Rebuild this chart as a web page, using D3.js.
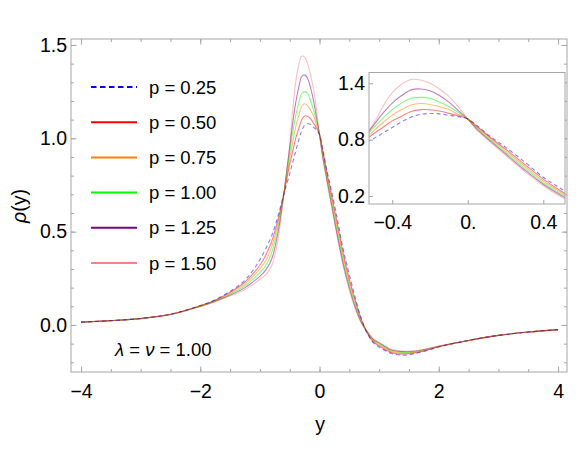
<!DOCTYPE html>
<html>
<head>
<meta charset="utf-8">
<script src="https://cdn.jsdelivr.net/npm/d3@7"></script>
<style>
  body { margin: 0; background: #fff; }
  text { font-family: "Liberation Sans", Arial, sans-serif; }
</style>
</head>
<body>
<div id="chart"></div>
<script>
"use strict";

// sample points along y
const yGrid = [-4, -3.5, -3, -2.5, -2, -1.75, -1.5, -1.25, -1.1, -1, -0.9, -0.8, -0.7, -0.6,
  -0.5, -0.45, -0.4, -0.35, -0.3, -0.25, -0.2, -0.15, -0.1, -0.05, 0, 0.05, 0.1, 0.15, 0.2,
  0.3, 0.4, 0.5, 0.6, 0.7, 0.8, 0.9, 1.0, 1.2, 1.4, 1.6, 1.8, 2.0, 2.5, 3, 3.5, 4];

const rhoP025 = [0.015, 0.023, 0.035, 0.058, 0.104, 0.135, 0.18, 0.24, 0.30, 0.35, 0.41, 0.48, 0.58, 0.70,
  0.81, 0.87, 0.93, 0.99, 1.04, 1.07, 1.078, 1.075, 1.06, 1.045, 1.02, 0.95, 0.865, 0.79, 0.72,
  0.565, 0.40, 0.27, 0.145, 0.035, -0.045, -0.095, -0.118, -0.152, -0.162, -0.153, -0.137, -0.118, -0.083, -0.056, -0.038, -0.025];
const rhoP050 = [0.015, 0.023, 0.035, 0.057, 0.103, 0.133, 0.175, 0.23, 0.28, 0.32, 0.375, 0.45, 0.56, 0.70,
  0.86, 0.93, 1.00, 1.05, 1.10, 1.12, 1.118, 1.105, 1.08, 1.055, 1.02, 0.94, 0.855, 0.775, 0.70,
  0.54, 0.38, 0.245, 0.13, 0.03, -0.043, -0.09, -0.112, -0.147, -0.156, -0.150, -0.135, -0.117, -0.083, -0.056, -0.038, -0.025];
const rhoP075 = [0.015, 0.023, 0.034, 0.057, 0.102, 0.131, 0.17, 0.22, 0.265, 0.30, 0.345, 0.42, 0.54, 0.70,
  0.89, 0.98, 1.06, 1.12, 1.17, 1.185, 1.175, 1.15, 1.12, 1.07, 1.02, 0.93, 0.845, 0.76, 0.68,
  0.52, 0.36, 0.23, 0.12, 0.025, -0.041, -0.086, -0.106, -0.142, -0.151, -0.147, -0.133, -0.116, -0.083, -0.056, -0.038, -0.025];
const rhoP100 = [0.015, 0.023, 0.034, 0.056, 0.101, 0.129, 0.165, 0.21, 0.25, 0.28, 0.32, 0.39, 0.52, 0.70,
  0.925, 1.03, 1.12, 1.19, 1.24, 1.25, 1.24, 1.20, 1.15, 1.09, 1.02, 0.92, 0.83, 0.745, 0.665,
  0.50, 0.34, 0.215, 0.105, 0.02, -0.039, -0.082, -0.101, -0.138, -0.147, -0.144, -0.131, -0.115, -0.083, -0.056, -0.038, -0.025];
const rhoP125 = [0.015, 0.023, 0.034, 0.056, 0.100, 0.127, 0.16, 0.20, 0.235, 0.26, 0.295, 0.355, 0.49, 0.70,
  0.95, 1.08, 1.19, 1.27, 1.33, 1.34, 1.32, 1.27, 1.20, 1.11, 1.02, 0.91, 0.82, 0.735, 0.65,
  0.48, 0.325, 0.20, 0.095, 0.015, -0.037, -0.078, -0.096, -0.134, -0.143, -0.141, -0.129, -0.114, -0.083, -0.056, -0.038, -0.025];
const rhoP150 = [0.015, 0.023, 0.034, 0.055, 0.098, 0.125, 0.155, 0.19, 0.22, 0.245, 0.27, 0.32, 0.45, 0.70,
  0.965, 1.15, 1.30, 1.39, 1.44, 1.435, 1.40, 1.34, 1.26, 1.15, 1.02, 0.90, 0.81, 0.72, 0.635,
  0.465, 0.31, 0.185, 0.085, 0.01, -0.035, -0.074, -0.092, -0.130, -0.140, -0.138, -0.128, -0.113, -0.083, -0.056, -0.038, -0.025];

const seriesNames = ["p = 0.25", "p = 0.50", "p = 0.75", "p = 1.00", "p = 1.25", "p = 1.50"];
const seriesValues = [rhoP025, rhoP050, rhoP075, rhoP100, rhoP125, rhoP150];

const xTicksMain = [-4, -2, 0, 2, 4];
const yTicksMain = [0, 0.5, 1, 1.5];
const xTicksInset = [-0.4, 0, 0.4];
const yTicksInset = [0.2, 0.8, 1.4];

// styles
const colors = ["#0000ff", "#ff0000", "#ff8000", "#00ff00", "#800080", "#ff8080"];
const frameColor = "#a6a6a6";
const tickFont = "19.5px";

const W = 578, H = 469;
const svg = d3.select("#chart").append("svg").attr("width", W).attr("height", H);
const defs = svg.append("defs");

const plotL = 71, plotT = 39, plotR = 567, plotB = 372;
const x = d3.scaleLinear().domain([-4.168, 4.15]).range([plotL, plotR]);
const y = d3.scaleLinear().domain([-0.252, 1.532]).range([plotB, plotT]);

const data = seriesValues.map((vals, i) => ({
  name: seriesNames[i],
  color: colors[i],
  points: yGrid.map((g, j) => ({ y: g, rho: vals[j] }))
}));

defs.append("clipPath").attr("id", "clipMain")
  .append("rect").attr("x", plotL).attr("y", plotT).attr("width", plotR - plotL).attr("height", plotB - plotT);

// frame with inward ticks, Mathematica style
function frameAxes(sel, xs, ys, opt) {
  const [l, r] = xs.range();
  const [b, t] = ys.range();
  const parts = [];
  parts.push(sel.append("g").attr("transform", `translate(0,${b})`)
    .call(d3.axisBottom(xs).tickValues(opt.xMinor).tickSize(-opt.minorLen).tickFormat("")));
  parts.push(sel.append("g").attr("transform", `translate(0,${b})`)
    .call(d3.axisBottom(xs).tickValues(opt.xMajor).tickSize(-opt.majorLen).tickPadding(opt.xPad)
      .tickFormat(opt.xFormat)));
  parts.push(sel.append("g").attr("transform", `translate(${l},0)`)
    .call(d3.axisLeft(ys).tickValues(opt.yMinor).tickSize(-opt.minorLen).tickFormat("")));
  parts.push(sel.append("g").attr("transform", `translate(${l},0)`)
    .call(d3.axisLeft(ys).tickValues(opt.yMajor).tickSize(-opt.majorLen).tickPadding(opt.yPad)
      .tickFormat(opt.yFormat)));
  if (opt.mirror) {
    parts.push(sel.append("g").attr("transform", `translate(0,${t})`)
      .call(d3.axisTop(xs).tickValues(opt.xMinor).tickSize(-opt.minorLen).tickFormat("")));
    parts.push(sel.append("g").attr("transform", `translate(0,${t})`)
      .call(d3.axisTop(xs).tickValues(opt.xMajor).tickSize(-opt.majorLen).tickFormat("")));
    parts.push(sel.append("g").attr("transform", `translate(${r},0)`)
      .call(d3.axisRight(ys).tickValues(opt.yMinor).tickSize(-opt.minorLen).tickFormat("")));
    parts.push(sel.append("g").attr("transform", `translate(${r},0)`)
      .call(d3.axisRight(ys).tickValues(opt.yMajor).tickSize(-opt.majorLen).tickFormat("")));
  }
  parts.forEach(a => {
    a.select(".domain").remove();
    a.selectAll(".tick line").attr("stroke", frameColor);
    a.selectAll(".tick text").attr("fill", "#000").style("font-size", tickFont)
      .style("font-family", '"Liberation Sans", Arial, sans-serif');
  });
  sel.append("rect").attr("x", l).attr("y", t).attr("width", r - l).attr("height", b - t)
    .attr("fill", "none").attr("stroke", frameColor).attr("stroke-width", 1);
}

const fmtMinus = d => (d < 0 ? "\u2212" : "") + Math.abs(d);

// main frame
const mainXMinor = d3.range(-4, 4.01, 0.5).map(v => +v.toFixed(2));
const mainYMinor = d3.range(-0.2, 1.51, 0.1).map(v => +v.toFixed(2));
frameAxes(svg.append("g"), x, y, {
  xMajor: xTicksMain, xMinor: mainXMinor, yMajor: yTicksMain, yMinor: mainYMinor,
  majorLen: 5.5, minorLen: 3, xPad: 12, yPad: 4,
  xFormat: fmtMinus, yFormat: d3.format(".1f"), mirror: true
});

// main curves
const line = d3.line().x(d => x(d.y)).y(d => y(d.rho)).curve(d3.curveCatmullRom.alpha(0.5));
svg.append("g").attr("clip-path", "url(#clipMain)")
  .selectAll("path").data(data.slice().reverse()).enter().append("path")
  .attr("d", d => line(d.points))
  .attr("fill", "none")
  .attr("stroke", d => d.color)
  .attr("stroke-opacity", 0.5)
  .attr("stroke-width", 1.1)
  .attr("stroke-dasharray", d => d.name === "p = 0.25" ? "4,3" : null);

// legend
const legend = svg.append("g");
data.forEach((d, i) => {
  const ly = 87 + i * 35.2;
  legend.append("line").attr("x1", 91).attr("x2", 137).attr("y1", ly).attr("y2", ly)
    .attr("stroke", d.color).attr("stroke-width", 2)
    .attr("stroke-dasharray", i === 0 ? "5.5,3.5" : null);
  legend.append("text").attr("x", 149).attr("y", ly + 6.5).style("font-size", "18.5px").text(d.name);
});

// parameters note
const note = svg.append("text").attr("x", 115).attr("y", 356).style("font-size", "18.5px");
note.append("tspan").style("font-style", "italic").text("\u03bb");
note.append("tspan").text(" = ");
note.append("tspan").style("font-style", "italic").text("\u03bd");
note.append("tspan").text(" = 1.00");

// axis labels
svg.append("text").attr("x", 320).attr("y", 431).attr("text-anchor", "middle")
  .style("font-size", "19.5px").text("y");
const yl = svg.append("text").attr("transform", "translate(26,206) rotate(-90)")
  .attr("text-anchor", "middle").style("font-size", "19.5px");
yl.append("tspan").style("font-style", "italic").text("\u03c1");
yl.append("tspan").text("(y)");

// inset
const inL = 369, inT = 72.5, inR = 565, inB = 204;
const xi = d3.scaleLinear().domain([-0.523, 0.515]).range([inL, inR]);
const yi = d3.scaleLinear().domain([0.115, 1.515]).range([inB, inT]);
const inset = svg.append("g");
inset.append("rect").attr("x", inL).attr("y", inT).attr("width", inR - inL).attr("height", inB - inT)
  .attr("fill", "#fff");
defs.append("clipPath").attr("id", "clipInset")
  .append("rect").attr("x", inL).attr("y", inT).attr("width", inR - inL).attr("height", inB - inT);
const lineI = d3.line().x(d => xi(d.y)).y(d => yi(d.rho)).curve(d3.curveCatmullRom.alpha(0.5));
inset.append("g").attr("clip-path", "url(#clipInset)")
  .selectAll("path").data(data.slice().reverse()).enter().append("path")
  .attr("d", d => lineI(d.points.filter(p => p.y >= -0.6 && p.y <= 0.6)))
  .attr("fill", "none")
  .attr("stroke", d => d.color)
  .attr("stroke-opacity", 0.5)
  .attr("stroke-width", 1.1)
  .attr("stroke-dasharray", d => d.name === "p = 0.25" ? "4,3" : null);
frameAxes(inset, xi, yi, {
  xMajor: xTicksInset, xMinor: [], yMajor: yTicksInset, yMinor: [],
  majorLen: 4, minorLen: 2, xPad: 11, yPad: 4,
  xFormat: d => d === 0 ? "0." : fmtMinus(d), yFormat: d3.format(".1f"), mirror: false
});
</script>
</body>
</html>
